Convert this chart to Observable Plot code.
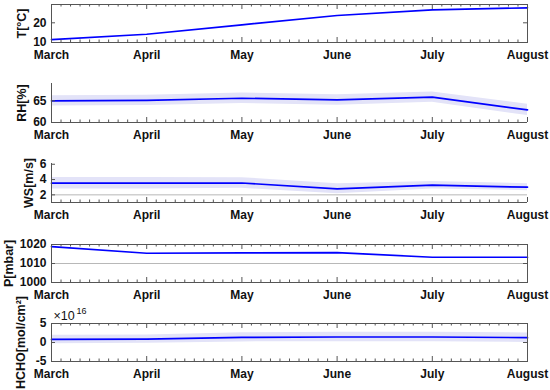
<!DOCTYPE html>
<html><head><meta charset="utf-8">
<script src="https://cdn.jsdelivr.net/npm/d3@7"></script>
<script src="https://cdn.jsdelivr.net/npm/@observablehq/plot@0.6"></script>
<style>
body{margin:0;background:#fff;}
#chart{position:relative;width:550px;height:390px;overflow:hidden;}
#chart > div{position:absolute;left:0;}
</style></head><body><div id="chart"></div>
<script>
const months = ["March","April","May","June","July","August"];
const T    = [11.5, 14.2, 19.0, 23.7, 26.6, 27.6];
const RH   = [65.0, 65.1, 65.6, 65.2, 65.85, 62.9];
const RHsd = [1.2, 1.2, 1.2, 1.2, 1.2, 1.3];
const WS   = [3.53, 3.53, 3.55, 2.79, 3.26, 3.0];
const WSsd = [0.75, 0.75, 0.7, 0.65, 0.5, 0.45];
const P    = [1018.9, 1015.4, 1015.6, 1015.7, 1013.3, 1013.3];
const HCHO   = [0.8e16, 0.9e16, 1.36e16, 1.45e16, 1.45e16, 1.28e16];
const HCHOsd = [1.1e16, 1.1e16, 1.2e16, 1.25e16, 1.25e16, 1.25e16];

const TTicks = [10, 20];
const RHTicks = [60, 65];
const WSTicks = [2, 4, 6];
const PTicks = [1000, 1010, 1020];
const HCHOTicks = [-5e16, 0, 5e16];

const W = 550, ML = 51, MR = 23, MT = 16, MB = 26;
const FW = W - ML - MR;
const AX = "#555";
const FONT = "'Liberation Sans', Arial, sans-serif";
const tenths = d3.range(0, 51);
const minor = tenths.filter(k => k % 10 !== 0).map(k => k / 10);
const major = d3.range(0, 6);

function panel(o) {
  const fh = o.bottom - o.top;
  const data = months.map((m, i) => ({
    i, v: o.values[i],
    lo: o.sd ? o.values[i] - o.sd[i] : null,
    hi: o.sd ? o.values[i] + o.sd[i] : null
  }));
  const marks = [];
  if (o.sd) marks.push(Plot.areaY(data, {x: "i", y1: "lo", y2: "hi", fill: "#e3e3f8"}));
  if (o.grid != null) marks.push(Plot.ruleY([o.grid], {stroke: "#b8b8b8", strokeWidth: 1}));
  marks.push(Plot.line(data, {x: "i", y: "v", stroke: "#0000ff", strokeWidth: 1.7}));
  if (o.box) marks.push(Plot.frame({stroke: AX, strokeWidth: 1}));
  else {
    marks.push(Plot.ruleX([0], {stroke: AX, strokeWidth: 1}));
    marks.push(Plot.ruleY([o.domain[0]], {stroke: AX, strokeWidth: 1}));
  }
  marks.push(Plot.tickX(minor, {x: d => d, stroke: AX, insetTop: fh - 2.5}));
  marks.push(Plot.tickX(major, {x: d => d, stroke: AX, insetTop: fh - 5}));
  if (o.box) {
    marks.push(Plot.tickX(minor, {x: d => d, stroke: AX, insetBottom: fh - 2.5}));
    marks.push(Plot.tickX(major, {x: d => d, stroke: AX, insetBottom: fh - 5}));
  }
  marks.push(Plot.tickY(o.ticks, {y: d => d, stroke: AX, insetRight: FW - 4}));
  if (o.box) marks.push(Plot.tickY(o.ticks, {y: d => d, stroke: AX, insetLeft: FW - 4}));
  marks.push(Plot.axisX(major, {tickSize: 0, tickPadding: 8, tickFormat: i => months[i], fontSize: 12, fontWeight: "bold", fill: "#111", label: null}));
  marks.push(Plot.axisY(o.ticks, {tickSize: 0, tickPadding: 5, tickFormat: o.fmt || (d => String(d)), fontSize: 12, fontWeight: "bold", fill: "#111", label: null}));
  marks.push(Plot.text([o.label], {text: d => d, frameAnchor: "left", rotate: -90, dx: o.labelX - ML, lineAnchor: "top", textAnchor: "middle", fontSize: 12.5, fontWeight: "bold", fill: "#111"}));
  if (o.exponent) {
    marks.push(Plot.text(["×10"], {text: d => d, frameAnchor: "top-left", dx: 2, dy: -4, lineAnchor: "bottom", textAnchor: "start", fontSize: 12.5, fill: "#111"}));
    marks.push(Plot.text([o.exponent], {text: d => d, frameAnchor: "top-left", dx: 25, dy: -10, lineAnchor: "bottom", textAnchor: "start", fontSize: 9, fill: "#111"}));
  }
  const chart = Plot.plot({
    width: W, height: fh + MT + MB,
    marginLeft: ML, marginRight: MR, marginTop: MT, marginBottom: MB,
    x: {domain: [0, 5], axis: null},
    y: {domain: o.domain, axis: null},
    style: {fontFamily: FONT, overflow: "visible", background: "transparent"},
    marks
  });
  const div = document.createElement("div");
  div.style.top = (o.top - MT) + "px";
  div.appendChild(chart);
  document.getElementById("chart").appendChild(div);
}

panel({top: 4, bottom: 42, values: T, domain: [10, 29.3], ticks: TTicks, label: "T[°C]", labelX: 17, box: true});
panel({top: 83, bottom: 122, values: RH, sd: RHsd, domain: [60, 69], ticks: RHTicks, label: "RH[%]", labelX: 17, box: false});
panel({top: 163, bottom: 202, values: WS, sd: WSsd, domain: [1, 6.1], ticks: WSTicks, label: "WS[m/s]", labelX: 24, box: false, grid: 2});
panel({top: 244, bottom: 282, values: P, domain: [1000, 1020], ticks: PTicks, label: "P[mbar]", labelX: 4, box: true, grid: 1010});
panel({top: 323, bottom: 361, values: HCHO, sd: HCHOsd, domain: [-5e16, 5e16], ticks: HCHOTicks, fmt: d => String(d / 1e16), label: "HCHO[mol/cm²]", labelX: 16, box: true, exponent: "16"});
</script>
</body></html>
